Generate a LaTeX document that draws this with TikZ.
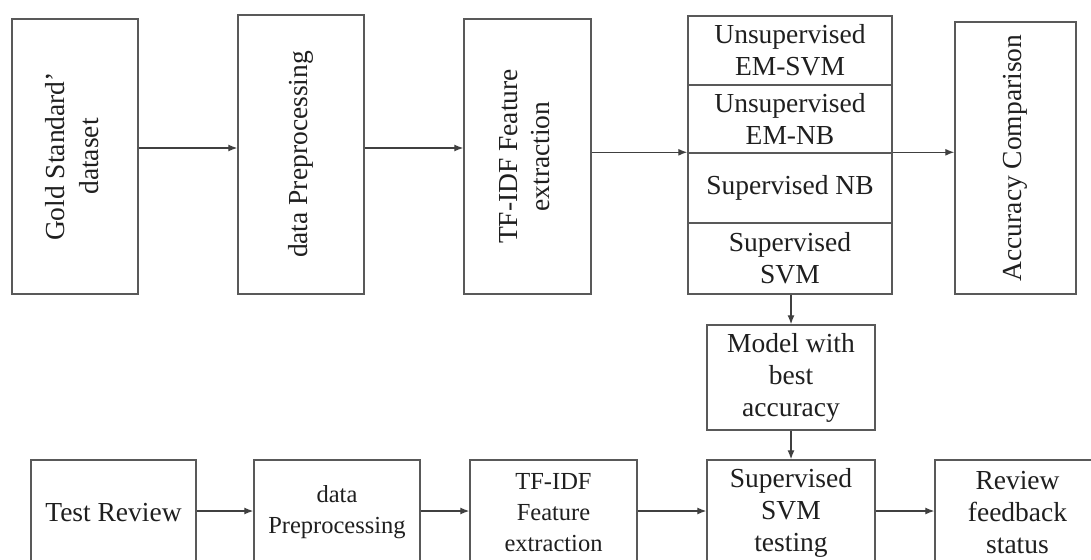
\documentclass[tikz,border=0pt]{standalone}
\usepackage{fontspec}
\setmainfont{Liberation Serif}
\usetikzlibrary{arrows.meta,calc}
\begin{document}
\begin{tikzpicture}[x=1pt,y=-1pt,
 box/.style={draw=black!65, line width=1.4pt, inner sep=0pt, align=center, text=black!88,
   font=\fontsize{27.5}{32}\selectfont},
 sbox/.style={box, font=\fontsize{24.5}{31}\selectfont},
 arr/.style={draw=black!75, line width=1.3pt, -{Latex[length=9pt,width=7pt]}},
]
\useasboundingbox (0,0) rectangle (1091,559);
\clip (0,0) rectangle (1091,559);
\fill[white] (0,0) rectangle (1091,559);

% top row
\node[box, minimum width=126pt, minimum height=275pt] (gs) at (75,156.5)
  {\rotatebox{90}{\begin{tabular}{@{}c@{}}Gold Standard'\\[2pt]dataset\end{tabular}}};
\node[box, minimum width=126pt, minimum height=279pt] (dp) at (301,154.5)
  {\rotatebox{90}{data Preprocessing}};
\node[box, minimum width=127pt, minimum height=275pt] (tf) at (527.5,156.5)
  {\rotatebox{90}{\begin{tabular}{@{}c@{}}TF-IDF Feature\\extraction\end{tabular}}};
\node[box, minimum width=204pt, minimum height=69pt] (c1) at (790,50.5) {Unsupervised\\EM-SVM};
\node[box, minimum width=204pt, minimum height=68pt] (c2) at (790,119) {Unsupervised\\EM-NB};
\node[box, minimum width=204pt, minimum height=70pt] (c3) at (790,188) {Supervised NB};
\node[box, minimum width=204pt, minimum height=71pt] (c4) at (790,258.5) {Supervised\\SVM};
\node[box, minimum width=121pt, minimum height=272pt] (ac) at (1015.5,158)
  {\rotatebox{90}{Accuracy Comparison}};

% middle
\node[box, minimum width=168pt, minimum height=105pt] (model) at (791,377.5) {Model with\\best\\accuracy};

% bottom row
\node[box, minimum width=165pt, minimum height=105pt] (tr) at (113.5,512.5) {Test Review};
\node[sbox, minimum width=166pt, minimum height=105pt] (dp2) at (337,512.5) {data\\Preprocessing};
\node[sbox, minimum width=167pt, minimum height=105pt] (tf2) at (553.5,512.5) {TF-IDF\\Feature\\extraction};
\node[box, minimum width=168pt, minimum height=105pt] (svm) at (791,512.5) {Supervised\\SVM\\testing};
\node[box, minimum width=165pt, minimum height=105pt] (rf) at (1017.5,512.5) {Review\\feedback\\status};

% connectors
\coordinate (ya) at (0,148);
\coordinate (yb) at (0,511);
\draw[arr] (gs.east |- ya) -- (dp.west |- ya);
\draw[arr] (dp.east |- ya) -- (tf.west |- ya);
\draw[arr] (tf.east |- c3.north west) -- (c3.north west);
\draw[arr] (c3.north east) -- (ac.west |- c3.north east);
\draw[arr] (model.north |- c4.south) -- (model.north);
\draw[arr] (model.south) -- (svm.north);
\draw[arr] (tr.east |- yb) -- (dp2.west |- yb);
\draw[arr] (dp2.east |- yb) -- (tf2.west |- yb);
\draw[arr] (tf2.east |- yb) -- (svm.west |- yb);
\draw[arr] (svm.east |- yb) -- (rf.west |- yb);
\end{tikzpicture}
\end{document}
